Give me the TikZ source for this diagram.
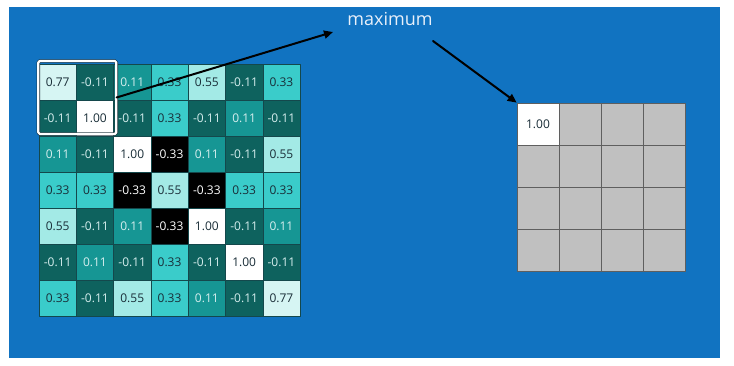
\documentclass[tikz,border=0pt]{standalone}
\usepackage{fontspec}
\setmainfont{Open Sans}
\usetikzlibrary{arrows.meta}
\definecolor{bgblue}{RGB}{17,115,193}
\definecolor{tealdark}{RGB}{14,98,94}
\definecolor{tealmid}{RGB}{22,150,148}
\definecolor{tealbright}{RGB}{58,204,202}
\definecolor{teallight}{RGB}{163,234,230}
\definecolor{tealpale}{RGB}{214,245,243}
\definecolor{inklight}{RGB}{214,238,238}
\definecolor{inkdark}{RGB}{25,45,55}
\definecolor{cellline}{RGB}{20,72,76}
\definecolor{poolgrey}{RGB}{192,192,192}
\definecolor{poolline}{RGB}{95,95,95}
\definecolor{labelwhite}{RGB}{232,240,250}

\tikzset{
  cell/.style={minimum width=37.3pt,minimum height=36pt,inner sep=0pt,draw=cellline,line width=.5pt,font=\fontsize{12}{14}\selectfont},
  n11/.style={cell,fill=tealdark,text=inklight},
  p11/.style={cell,fill=tealmid,text=inklight},
  p33/.style={cell,fill=tealbright,text=inkdark},
  p55/.style={cell,fill=teallight,text=inkdark},
  p77/.style={cell,fill=tealpale,text=inkdark},
  p100/.style={cell,fill=white,text=inkdark},
  n33/.style={cell,fill=black,text=white},
  pool/.style={minimum size=42pt,inner sep=0pt,draw=poolline,line width=.7pt,fill=poolgrey,font=\fontsize{12}{14}\selectfont,text=inkdark},
  window/.style={draw=inkdark,line width=.6pt,double=white,double distance=2.2pt,rounded corners=1.5pt,inner sep=0pt},
  ptr/.style={draw=black,line width=2pt,-{Triangle[length=9pt,width=8pt]}}
}

\begin{document}
\begin{tikzpicture}[x=1pt,y=1pt,line cap=round,line join=round]
\useasboundingbox (0,0) rectangle (734,366);
\path[fill=bgblue] (9,8) rectangle (720,359);
% feature map
\node[p77] (c11) at (57.65,284) {0.77};
\node[n11] (c12) at (94.95,284) {-0.11};
\node[p11] (c13) at (132.25,284) {0.11};
\node[p33] (c14) at (169.55,284) {0.33};
\node[p55] (c15) at (206.85,284) {0.55};
\node[n11] (c16) at (244.15,284) {-0.11};
\node[p33] (c17) at (281.45,284) {0.33};
\node[n11] (c21) at (57.65,248) {-0.11};
\node[p100] (c22) at (94.95,248) {1.00};
\node[n11] (c23) at (132.25,248) {-0.11};
\node[p33] (c24) at (169.55,248) {0.33};
\node[n11] (c25) at (206.85,248) {-0.11};
\node[p11] (c26) at (244.15,248) {0.11};
\node[n11] (c27) at (281.45,248) {-0.11};
\node[p11] (c31) at (57.65,212) {0.11};
\node[n11] (c32) at (94.95,212) {-0.11};
\node[p100] (c33) at (132.25,212) {1.00};
\node[n33] (c34) at (169.55,212) {-0.33};
\node[p11] (c35) at (206.85,212) {0.11};
\node[n11] (c36) at (244.15,212) {-0.11};
\node[p55] (c37) at (281.45,212) {0.55};
\node[p33] (c41) at (57.65,176) {0.33};
\node[p33] (c42) at (94.95,176) {0.33};
\node[n33] (c43) at (132.25,176) {-0.33};
\node[p55] (c44) at (169.55,176) {0.55};
\node[n33] (c45) at (206.85,176) {-0.33};
\node[p33] (c46) at (244.15,176) {0.33};
\node[p33] (c47) at (281.45,176) {0.33};
\node[p55] (c51) at (57.65,140) {0.55};
\node[n11] (c52) at (94.95,140) {-0.11};
\node[p11] (c53) at (132.25,140) {0.11};
\node[n33] (c54) at (169.55,140) {-0.33};
\node[p100] (c55) at (206.85,140) {1.00};
\node[n11] (c56) at (244.15,140) {-0.11};
\node[p11] (c57) at (281.45,140) {0.11};
\node[n11] (c61) at (57.65,104) {-0.11};
\node[p11] (c62) at (94.95,104) {0.11};
\node[n11] (c63) at (132.25,104) {-0.11};
\node[p33] (c64) at (169.55,104) {0.33};
\node[n11] (c65) at (206.85,104) {-0.11};
\node[p100] (c66) at (244.15,104) {1.00};
\node[n11] (c67) at (281.45,104) {-0.11};
\node[p33] (c71) at (57.65,68) {0.33};
\node[n11] (c72) at (94.95,68) {-0.11};
\node[p55] (c73) at (132.25,68) {0.55};
\node[p33] (c74) at (169.55,68) {0.33};
\node[p11] (c75) at (206.85,68) {0.11};
\node[n11] (c76) at (244.15,68) {-0.11};
\node[p77] (c77) at (281.45,68) {0.77};
% pooling window
\node[window,minimum width=78pt,minimum height=73pt] (win) at (77.3,268.5) {};
% pooled map
\node[pool,fill=white] (o11) at (538,242) {1.00};
\node[pool] (o12) at (580,242) {};
\node[pool] (o13) at (622,242) {};
\node[pool] (o14) at (664,242) {};
\node[pool] (o21) at (538,200) {};
\node[pool] (o22) at (580,200) {};
\node[pool] (o23) at (622,200) {};
\node[pool] (o24) at (664,200) {};
\node[pool] (o31) at (538,158) {};
\node[pool] (o32) at (580,158) {};
\node[pool] (o33) at (622,158) {};
\node[pool] (o34) at (664,158) {};
\node[pool] (o41) at (538,116) {};
\node[pool] (o42) at (580,116) {};
\node[pool] (o43) at (622,116) {};
\node[pool] (o44) at (664,116) {};
% label and arrows
\node[font=\fontsize{18}{20}\selectfont,text=labelwhite] (maxlbl) at (390,347) {maximum};
\coordinate (inTip) at (333,334);
\coordinate (outTail) at (433,325);
\draw[ptr] (win.east) -- (inTip);
\draw[ptr] (outTail) -- (o11.north west);
\end{tikzpicture}
\end{document}
